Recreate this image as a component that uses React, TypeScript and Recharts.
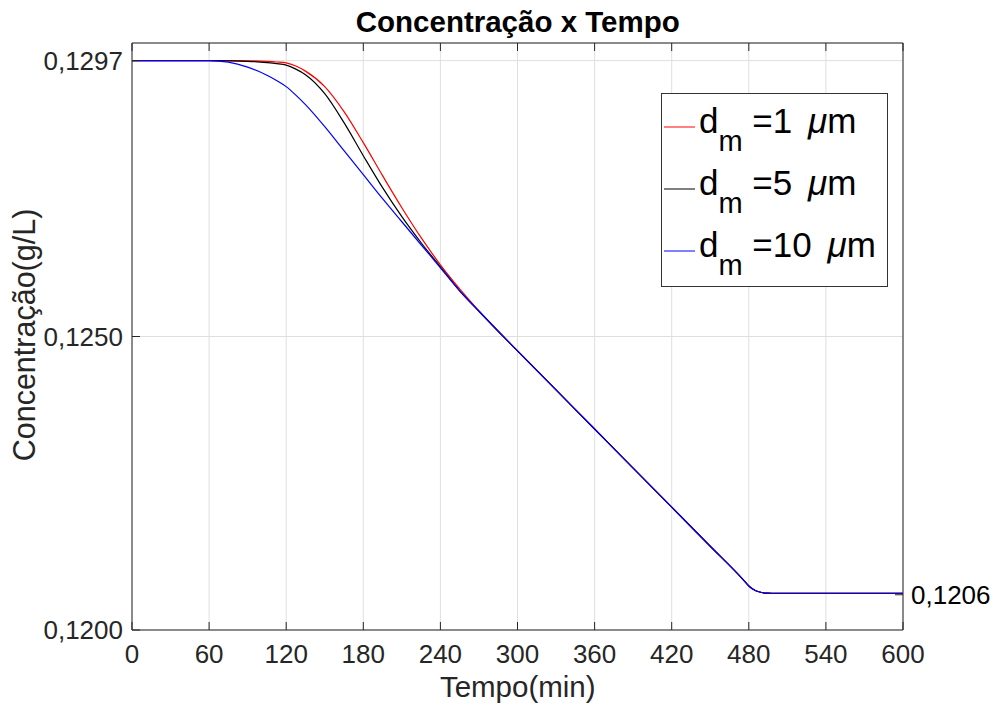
import React from 'react';
import { LineChart, Line, XAxis, YAxis, CartesianGrid } from 'recharts';

// Time (min)
const timeMin = [0, 15, 30, 45, 60, 75, 90, 105, 112.5, 120, 127.5, 135, 150, 165, 180, 195, 210, 225, 240, 255, 270, 285, 300, 330, 360, 390, 420, 450, 475, 480, 485, 490, 495, 500, 540, 600];

// Concentration (g/L), d_m = 1 µm
const conc1um = [0.1297, 0.1297, 0.1297, 0.1297, 0.1297, 0.129699, 0.129697, 0.129686, 0.129676, 0.129661, 0.129608, 0.129521, 0.129257, 0.128831, 0.128302, 0.12774, 0.127194, 0.126683, 0.126222, 0.125813, 0.125438, 0.125089, 0.124756, 0.12409, 0.123424, 0.122758, 0.122093, 0.121427, 0.120872, 0.12075, 0.120673, 0.120639, 0.120627, 0.120626, 0.120626, 0.120626];

// Concentration (g/L), d_m = 5 µm
const conc5um = [0.1297, 0.1297, 0.1297, 0.1297, 0.1297, 0.129697, 0.129688, 0.129666, 0.129649, 0.129623, 0.129555, 0.129461, 0.129138, 0.128643, 0.12808, 0.127535, 0.127041, 0.126597, 0.126188, 0.125779, 0.12543, 0.125089, 0.124756, 0.12409, 0.123424, 0.122758, 0.122093, 0.121427, 0.120872, 0.12075, 0.120673, 0.120639, 0.120627, 0.120626, 0.120626, 0.120626];

// Concentration (g/L), d_m = 10 µm
const conc10um = [0.1297, 0.1297, 0.1297, 0.1297, 0.1297, 0.129674, 0.129589, 0.12945, 0.129362, 0.129257, 0.129112, 0.12895, 0.128575, 0.128166, 0.127757, 0.127347, 0.126955, 0.126563, 0.126171, 0.125779, 0.12543, 0.125089, 0.124756, 0.12409, 0.123424, 0.122758, 0.122093, 0.121427, 0.120872, 0.12075, 0.120673, 0.120639, 0.120627, 0.120626, 0.120626, 0.120626];

const xTicks = [0, 60, 120, 180, 240, 300, 360, 420, 480, 540, 600];
const yTicksLeft = [0.12, 0.125, 0.1297];
const yTicksRight = [0.1206];
const diameters = ['1', '5', '10'];
const seriesKeys = ['c1', 'c5', 'c10'];
const seriesColors = ['#ff0000', '#000000', '#0000ff'];

const data = timeMin.map((t, i) => ({ t, c1: conc1um[i], c5: conc5um[i], c10: conc10um[i] }));

const FONT = '"Liberation Sans", Arial, Helvetica, sans-serif';
const AX = '#262626';
const fmt = (v: number) => v.toFixed(4).replace('.', ',');

const LegendBox = () => (
  <svg width={227} height={194} style={{ display: 'block', fontFamily: FONT }}>
    <rect x={0.5} y={0.5} width={226} height={193} fill="#fff" stroke="#333" strokeWidth={1} />
    {diameters.map((d, i) => {
      const base = 40 + i * 62;
      return (
        <g key={d}>
          <line x1={3} x2={34} y1={base - 6} y2={base - 6} stroke={seriesColors[i]} strokeWidth={1} />
          <text x={38} y={base} fontSize={35} fill="#000" style={{ whiteSpace: 'pre' }}>
            <tspan>d</tspan>
            <tspan dy={18} fontSize={29}>m</tspan>
            <tspan dy={-18}>{` =${d} `}</tspan>
            <tspan dx={6} fontStyle="italic">μ</tspan>
            <tspan>m</tspan>
          </text>
        </g>
      );
    })}
  </svg>
);

export default function App() {
  return (
    <div style={{ position: 'absolute', left: 0, top: 0, width: 993, height: 706, background: '#fff' }}>
      <LineChart width={993} height={706} data={data} margin={{ top: 0, right: 0, bottom: 0, left: 0 }} style={{ fontFamily: FONT }}>
        <CartesianGrid xAxisId="bottom" yAxisId="left" stroke="#dfdfdf" strokeWidth={1} />
        <XAxis
          xAxisId="bottom"
          dataKey="t"
          type="number"
          domain={[0, 600]}
          ticks={xTicks}
          interval={0}
          height={76}
          tickSize={-8}
          tickMargin={23}
          axisLine={{ stroke: AX }}
          tickLine={{ stroke: AX }}
          tick={{ fontSize: 26, fill: AX, fontFamily: FONT }}
        />
        <XAxis
          xAxisId="top"
          orientation="top"
          dataKey="t"
          type="number"
          domain={[0, 600]}
          ticks={xTicks}
          interval={0}
          height={43}
          tickSize={-8}
          tickMargin={4}
          axisLine={{ stroke: AX }}
          tickLine={{ stroke: AX }}
          tickFormatter={() => ''}
        />
        <YAxis
          yAxisId="left"
          type="number"
          domain={[0.12, 0.13]}
          ticks={yTicksLeft}
          interval={0}
          width={132}
          tickSize={-8}
          tickMargin={17}
          allowDataOverflow
          axisLine={{ stroke: AX }}
          tickLine={{ stroke: AX }}
          tickFormatter={fmt}
          tick={{ fontSize: 26, fill: AX, fontFamily: FONT }}
        />
        <YAxis
          yAxisId="right"
          orientation="right"
          type="number"
          domain={[0.12, 0.13]}
          ticks={yTicksRight}
          interval={0}
          width={90}
          tickSize={-8}
          tickMargin={16}
          allowDataOverflow
          axisLine={{ stroke: AX }}
          tickLine={{ stroke: AX }}
          tickFormatter={fmt}
          tick={{ fontSize: 26, fill: '#000', fontFamily: FONT }}
        />
        {seriesKeys.map((k, i) => (
          <Line
            key={k}
            xAxisId="bottom"
            yAxisId="left"
            dataKey={k}
            name={`d_m =${diameters[i]} μm`}
            type="monotone"
            stroke={seriesColors[i]}
            strokeWidth={1.2}
            dot={false}
            activeDot={false}
            isAnimationActive={false}
          />
        ))}
      </LineChart>
      <div style={{ position: 'absolute', left: 661, top: 93 }}>
        <LegendBox />
      </div>
      <svg width={993} height={706} style={{ position: 'absolute', left: 0, top: 0, pointerEvents: 'none', fontFamily: FONT }}>
        <text x={517.75} y={32} textAnchor="middle" fontSize={29.5} fontWeight="bold" fill="#000">
          Concentração x Tempo
        </text>
        <text x={517.75} y={697} textAnchor="middle" fontSize={29.5} fill={AX}>
          Tempo(min)
        </text>
        <text transform="translate(35, 335) rotate(-90)" x={0} y={0} textAnchor="middle" fontSize={30.5} fill={AX}>
          Concentração(g/L)
        </text>
      </svg>
    </div>
  );
}
